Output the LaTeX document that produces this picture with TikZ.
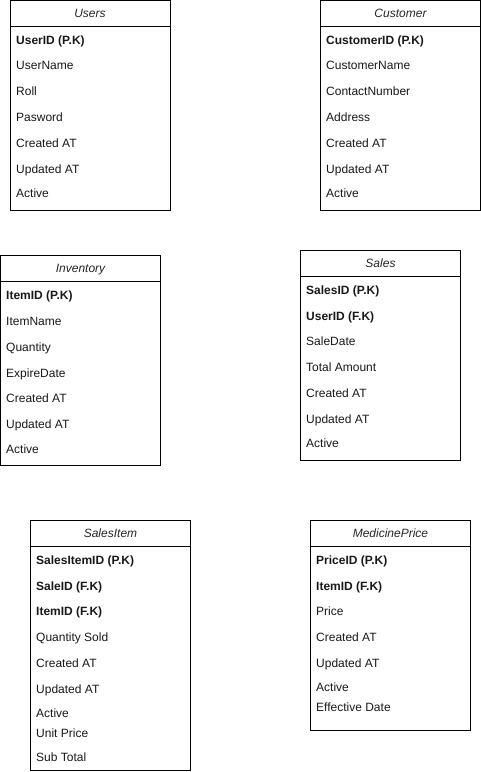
\documentclass[tikz,border=0pt]{standalone}
\usepackage{fontspec}
\setmainfont{Liberation Sans}
\begin{document}
\begin{tikzpicture}[x=1pt,y=-1pt,
  tbl/.style={draw=black, line width=0.9pt, anchor=north west, minimum width=160pt, inner sep=0pt, outer sep=0pt},
  hdr/.style={draw=black, line width=0.9pt},
  ttl/.style={font=\fontsize{12}{14}\selectfont\itshape, text=black!85, text height=8.6pt, text depth=0pt, inner sep=0pt},
  row/.style={anchor=west, font=\fontsize{12}{14}\selectfont, text=black!90, text height=8.6pt, text depth=0pt, inner sep=0pt},
  key/.style={row, font=\fontsize{12}{14}\selectfont\bfseries}]
\useasboundingbox (0,0) rectangle (481,772);
\fill[white] (0,0) rectangle (481,772);

% Users
\node[tbl, minimum height=209.5pt] (users) at (10,0.5) {};
\draw[hdr] ([yshift=-25.5pt]users.north west) -- ([yshift=-25.5pt]users.north east);
\node[ttl] (usersT) at (90,13) {Users};
\node[key] (u1) at (16,40) {UserID (P.K)};
\node[row] (u2) at (16,65) {UserName};
\node[row] (u3) at (16,91) {Roll};
\node[row] (u4) at (16,117) {Pasword};
\node[row] (u5) at (16,143) {Created AT};
\node[row] (u6) at (16,169) {Updated AT};
\node[row] (u7) at (16,193) {Active};

% Customer
\node[tbl, minimum height=209.5pt] (cust) at (320.5,0.5) {};
\draw[hdr] ([yshift=-25.5pt]cust.north west) -- ([yshift=-25.5pt]cust.north east);
\node[ttl] (custT) at (400.5,13) {Customer};
\node[key] (c1) at (326,40) {CustomerID (P.K)};
\node[row] (c2) at (326,65) {CustomerName};
\node[row] (c3) at (326,91) {ContactNumber};
\node[row] (c4) at (326,117) {Address};
\node[row] (c5) at (326,143) {Created AT};
\node[row] (c6) at (326,169) {Updated AT};
\node[row] (c7) at (326,193) {Active};

% Inventory
\node[tbl, minimum height=209.5pt] (inv) at (0.5,255.5) {};
\draw[hdr] ([yshift=-26pt]inv.north west) -- ([yshift=-26pt]inv.north east);
\node[ttl] (invT) at (80.5,268.5) {Inventory};
\node[key] (i1) at (6,295) {ItemID (P.K)};
\node[row] (i2) at (6,321) {ItemName};
\node[row] (i3) at (6,347) {Quantity};
\node[row] (i4) at (6,373) {ExpireDate};
\node[row] (i5) at (6,398) {Created AT};
\node[row] (i6) at (6,424) {Updated AT};
\node[row] (i7) at (6,449) {Active};

% Sales
\node[tbl, minimum height=210pt] (sales) at (300.5,250.5) {};
\draw[hdr] ([yshift=-26pt]sales.north west) -- ([yshift=-26pt]sales.north east);
\node[ttl] (salesT) at (380.5,263.5) {Sales};
\node[key] (s1) at (306,290) {SalesID (P.K)};
\node[key] (s2) at (306,316) {UserID (F.K)};
\node[row] (s3) at (306,341) {SaleDate};
\node[row] (s4) at (306,367) {Total Amount};
\node[row] (s5) at (306,393) {Created AT};
\node[row] (s6) at (306,419) {Updated AT};
\node[row] (s7) at (306,443) {Active};

% SalesItem
\node[tbl, minimum height=249.5pt] (si) at (30.5,520.5) {};
\draw[hdr] ([yshift=-26pt]si.north west) -- ([yshift=-26pt]si.north east);
\node[ttl] (siT) at (110.5,533.5) {SalesItem};
\node[key] (si1) at (36,560) {SalesItemID (P.K)};
\node[key] (si2) at (36,586) {SaleID (F.K)};
\node[key] (si3) at (36,611) {ItemID (F.K)};
\node[row] (si4) at (36,637) {Quantity Sold};
\node[row] (si5) at (36,663) {Created AT};
\node[row] (si6) at (36,689) {Updated AT};
\node[row] (si7) at (36,713) {Active};
\node[row] (si8) at (36,733) {Unit Price};
\node[row] (si9) at (36,757) {Sub Total};

% MedicinePrice
\node[tbl, minimum height=209.5pt] (mp) at (310.5,520.5) {};
\draw[hdr] ([yshift=-26pt]mp.north west) -- ([yshift=-26pt]mp.north east);
\node[ttl] (mpT) at (390.5,533.5) {MedicinePrice};
\node[key] (m1) at (316,560) {PriceID (P.K)};
\node[key] (m2) at (316,586) {ItemID (F.K)};
\node[row] (m3) at (316,611) {Price};
\node[row] (m4) at (316,637) {Created AT};
\node[row] (m5) at (316,663) {Updated AT};
\node[row] (m6) at (316,687) {Active};
\node[row] (m7) at (316,707) {Effective Date};
\end{tikzpicture}
\end{document}
